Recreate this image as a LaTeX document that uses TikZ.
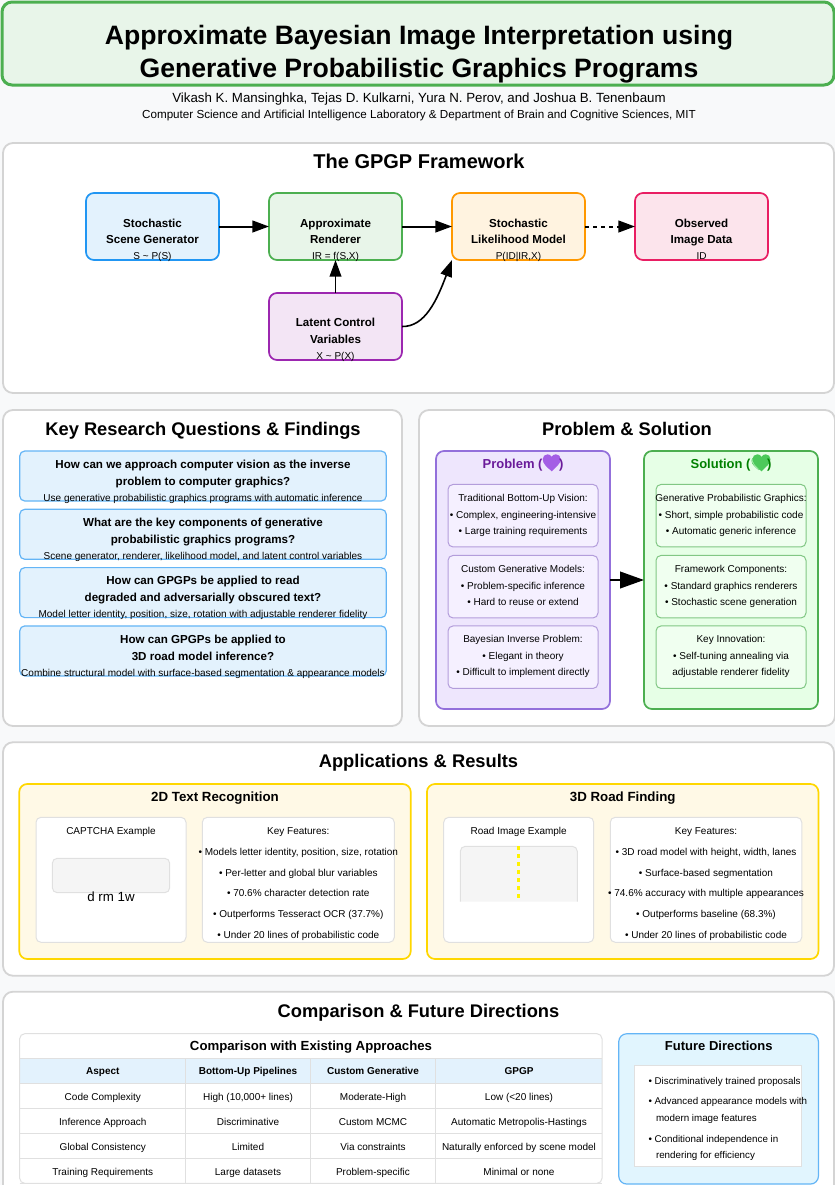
\documentclass[tikz,border=0pt]{standalone}
\usepackage{fontspec}
\setmainfont{Liberation Sans}
\newfontfamily\emojifont{Noto Emoji}
\usetikzlibrary{arrows.meta}

\definecolor{pagebg}{HTML}{F8F9FA}
\definecolor{panelline}{HTML}{D4D4D4}
\definecolor{bluefill}{HTML}{E3F2FD}
\definecolor{blueline}{HTML}{2196F3}
\definecolor{softblue}{HTML}{64B5F6}
\definecolor{greenfill}{HTML}{E8F5E9}
\definecolor{greenline}{HTML}{4CAF50}
\definecolor{orangefill}{HTML}{FFF3E0}
\definecolor{orangeline}{HTML}{FF9800}
\definecolor{pinkfill}{HTML}{FCE4EC}
\definecolor{pinkline}{HTML}{E91E63}
\definecolor{purplefill}{HTML}{F3E5F5}
\definecolor{purpleline}{HTML}{9C27B0}
\definecolor{probfill}{HTML}{EEE6FD}
\definecolor{probline}{HTML}{9370DB}
\definecolor{probinner}{HTML}{F5F0FF}
\definecolor{probinline}{HTML}{B39DDB}
\definecolor{probtext}{HTML}{6A1B9A}
\definecolor{solfill}{HTML}{E6FFE6}
\definecolor{solinner}{HTML}{F0FFF0}
\definecolor{solinline}{HTML}{81C784}
\definecolor{soltext}{HTML}{008000}
\definecolor{yellowfill}{HTML}{FFF9E6}
\definecolor{yellowline}{HTML}{FFD700}
\definecolor{softgray}{HTML}{E0E0E0}
\definecolor{roadgray}{HTML}{F5F5F5}
\definecolor{futurefill}{HTML}{E1F5FE}
\definecolor{purpleheart}{HTML}{A45EE5}
\definecolor{greenheart}{HTML}{4CC95A}

\newcommand\pxsize[1]{\pgfmathsetmacro\pxfs{#1*0.75}\fontsize{\pxfs}{\pxfs}\selectfont}
\newcommand\heartpath{(9,17) .. controls (5,13) and (0,9.5) .. (0,5) .. controls (0,2) and (2,0) .. (4.8,0)
  .. controls (6.6,0) and (8.2,1) .. (9,2.5) .. controls (9.8,1) and (11.4,0) .. (13.2,0)
  .. controls (16,0) and (18,2) .. (18,5) .. controls (18,9.5) and (13,13) .. (9,17) -- cycle}

\tikzset{
  boxed/.style n args={4}{draw=#3,fill=#4,rectangle,rounded corners=#2*0.75pt,
    inner sep=0pt,outer sep=0pt,line width=#1*0.75pt},
  sized/.style 2 args={minimum width=#1*0.75pt,minimum height=#2*0.75pt},
  textline/.style={inner sep=0pt,outer sep=0pt,anchor=base,text=black},
  pxbold/.style={textline,font=\pxsize{#1}\bfseries,yshift=-#1*0.27pt},
  pxplain/.style={textline,font=\pxsize{#1},yshift=-#1*0.27pt},
  panel/.style={boxed={1.8}{10}{panelline}{white}},
  flowbox/.style 2 args={boxed={1.7}{8}{#1}{#2},sized={133}{67}},
  flowarrow/.style={-{Triangle[length=12.5pt,width=8.8pt]},line width=1.5pt,black},
  flowthin/.style={-{Triangle[length=12.5pt,width=8.8pt]},line width=1.2pt,black},
  heading/.style={pxbold=18.3},
}

\begin{document}
\begin{tikzpicture}[x=0.75pt,y=-0.75pt]
  \useasboundingbox (0,0) rectangle (835,1185);
  \fill[pagebg] (0,0) rectangle (835,1185);

  % Title block
  \node[boxed={3}{10}{greenline}{greenfill},sized={832}{83}] (titlebox) at (418,43.5) {};
  \node[pxbold=26.6] (titlea) at (419,35) {Approximate Bayesian Image Interpretation using};
  \node[pxbold=26.6] (titleb) at (419,68) {Generative Probabilistic Graphics Programs};
  \node[pxplain=13.3] (authors) at (419,97.5) {Vikash K. Mansinghka, Tejas D. Kulkarni, Yura N. Perov, and Joshua B. Tenenbaum};
  \node[pxplain=11.65] (affil) at (419,114) {Computer Science and Artificial Intelligence Laboratory \& Department of Brain and Cognitive Sciences, MIT};

  % Framework panel
  \node[panel,sized={831}{250}] (framepanel) at (418.5,268) {};
  \node[pxbold=20] (framehead) at (419,161) {The GPGP Framework};

  \node[flowbox={blueline}{bluefill}] (scene) at (152.5,226.5) {};
  \node[flowbox={greenline}{greenfill}] (renderer) at (335.5,226.5) {};
  \node[flowbox={orangeline}{orangefill}] (likelihood) at (518.5,226.5) {};
  \node[flowbox={pinkline}{pinkfill}] (observed) at (701.5,226.5) {};
  \node[flowbox={purpleline}{purplefill}] (latent) at (335.5,326.5) {};

  \foreach \cx/\id/\txta/\txtb/\txtc in {
    152.5/scene/Stochastic/Scene Generator/S \textasciitilde{} P(S),
    335.5/renderer/Approximate/Renderer/IR = f(S{,}X),
    518.5/likelihood/Stochastic/Likelihood Model/P(ID|IR{,}X),
    701.5/observed/Observed/Image Data/ID}{
    \node[pxbold=11.6] (\id a) at (\cx,223) {\txta};
    \node[pxbold=11.6] (\id b) at (\cx,239) {\txtb};
    \node[pxplain=10] (\id c) at (\cx,256) {\txtc};
  }
  \node[pxbold=11.6] (latenta) at (335.5,322) {Latent Control};
  \node[pxbold=11.6] (latentb) at (335.5,339) {Variables};
  \node[pxplain=10] (latentc) at (335.5,356) {X \textasciitilde{} P(X)};

  \draw[flowarrow] (scene.east) -- (renderer.west);
  \draw[flowarrow] (renderer.east) -- (likelihood.west);
  \draw[flowarrow,dash pattern=on 3pt off 3pt] (likelihood.east) -- (observed.west);
  \draw[flowthin] (latent.north) -- (renderer.south);
  \draw[flowthin] (latent.east) .. controls (425,327) and (437,300) .. (likelihood.south west);

  % Research questions panel
  \node[panel,sized={399}{316}] (questpanel) at (202.5,568) {};
  \node[heading] (questhead) at (203,428.5) {Key Research Questions \& Findings};

  \foreach \top/\qa/\qb/\ans [count=\i] in {
    451/How can we approach computer vision as the inverse/problem to computer graphics?/Use generative probabilistic graphics programs with automatic inference,
    509.3/What are the key components of generative/probabilistic graphics programs?/{Scene generator, renderer, likelihood model, and latent control variables},
    567.6/How can GPGPs be applied to read/degraded and adversarially obscured text?/{Model letter identity, position, size, rotation with adjustable renderer fidelity},
    625.9/How can GPGPs be applied to/3D road model inference?/Combine structural model with surface-based segmentation \& appearance models}{
    \node[boxed={1.2}{5}{softblue}{bluefill},sized={366.5}{50}] (quest\i) at (203,\top+25) {};
    \node[pxbold=11.6] (quest\i a) at (203,\top+13) {\qa};
    \node[pxbold=11.6] (quest\i b) at (203,\top+30) {\qb};
    \node[pxplain=10] (quest\i c) at (203,\top+46.5) {\ans};
  }

  % Problem and solution panel
  \node[panel,sized={416}{316}] (probpanel) at (627,568) {};
  \node[heading] (probhead) at (627,428.5) {Problem \& Solution};

  \node[boxed={1.7}{8}{probline}{probfill},sized={174}{258}] (problem) at (523,580) {};
  \node[boxed={1.7}{8}{greenline}{solfill},sized={174}{258}] (solution) at (731,580) {};
  \fill[purpleheart,shift={(542.7,454.3)}] \heartpath;
  \fill[greenheart,shift={(752.5,454.3)}] \heartpath;
  \node[pxbold=13,text=probtext] (problemhead) at (523,463.5) {Problem ({\emojifont\textcolor{purpleheart}{💜}})};
  \node[pxbold=13,text=soltext] (solutionhead) at (731,463.5) {Solution ({\emojifont\textcolor{greenheart}{💚}})};
  \draw[-{Triangle[length=18pt,width=12.5pt]},line width=1.5pt] (problem.east) -- (solution.west);

  \foreach \top/\txta/\txtb/\txtc [count=\i] in {
    484.5/Traditional Bottom-Up Vision:/{• Complex, engineering-intensive}/• Large training requirements,
    555.5/Custom Generative Models:/• Problem-specific inference/• Hard to reuse or extend,
    626/Bayesian Inverse Problem:/• Elegant in theory/• Difficult to implement directly}{
    \node[boxed={1}{5}{probinline}{probinner},sized={150}{62.5}] (problem\i) at (523,\top+31.2) {};
    \node[pxplain=10] (problem\i a) at (523,\top+13) {\txta};
    \node[pxplain=10] (problem\i b) at (523,\top+30) {\txtb};
    \node[pxplain=10] (problem\i c) at (523,\top+46.2) {\txtc};
  }
  \foreach \top/\txta/\txtb/\txtc [count=\i] in {
    484.5/Generative Probabilistic Graphics:/{• Short, simple probabilistic code}/• Automatic generic inference,
    555.5/Framework Components:/• Standard graphics renderers/• Stochastic scene generation,
    626/Key Innovation:/• Self-tuning annealing via/adjustable renderer fidelity}{
    \node[boxed={1}{5}{solinline}{solinner},sized={150}{62.5}] (solution\i) at (731,\top+31.2) {};
    \node[pxplain=10] (solution\i a) at (731,\top+13) {\txta};
    \node[pxplain=10] (solution\i b) at (731,\top+30) {\txtb};
    \node[pxplain=10] (solution\i c) at (731,\top+46.2) {\txtc};
  }

  % Applications panel
  \node[panel,sized={831}{233.5}] (apppanel) at (418.5,859) {};
  \node[heading] (apphead) at (418.5,760.7) {Applications \& Results};

  \node[boxed={1.7}{8}{yellowline}{yellowfill},sized={391.5}{175}] (textcard) at (215,871.5) {};
  \node[boxed={1.7}{8}{yellowline}{yellowfill},sized={391.5}{175}] (roadcard) at (622.7,871.5) {};
  \node[pxbold=13.3] (textcardhead) at (215,796.5) {2D Text Recognition};
  \node[pxbold=13.3] (roadcardhead) at (622.7,796.5) {3D Road Finding};

  \node[boxed={1}{5}{softgray}{white},sized={150}{125}] (captchabox) at (111,879.8) {};
  \node[boxed={1}{5}{softgray}{white},sized={192}{125}] (textfeat) at (298.3,879.8) {};
  \node[boxed={1}{5}{softgray}{white},sized={150}{125}] (roadbox) at (518.7,879.8) {};
  \node[boxed={1}{5}{softgray}{white},sized={191.5}{125}] (roadfeat) at (706,879.8) {};

  \node[pxplain=10] (captchalabel) at (111,830.7) {CAPTCHA Example};
  \node[boxed={1}{5}{softgray}{roadgray},sized={117.4}{34.4}] (captchaimg) at (111,875.5) {};
  \node[pxplain=13.3] (captchatext) at (111,896.7) {d rm 1w};

  \node[pxplain=10] (roadlabel) at (518.7,830.7) {Road Image Example};
  % road picture is cut off at its lower edge
  \fill[roadgray,rounded corners=3.75pt] (460.3,901.5) [sharp corners] -- (460.3,860) [rounded corners=3.75pt] -- (460.3,846.3) -- (577.3,846.3) -- (577.3,860) [sharp corners] -- (577.3,901.5) -- cycle;
  \draw[softgray,line width=0.75pt,rounded corners=3.75pt] (460.3,901.5) -- (460.3,846.3) -- (577.3,846.3) -- (577.3,901.5);
  \draw[yellow,line width=2.2pt,dash pattern=on 3pt off 3pt] (518.7,846.3) -- (518.7,901.5);

  \foreach \y/\txta/\txtb [count=\i] in {
    830.7/Key Features:/Key Features:,
    851.7/{• Models letter identity, position, size, rotation}/{• 3D road model with height, width, lanes},
    872.7/• Per-letter and global blur variables/• Surface-based segmentation,
    892.7/• 70.6\% character detection rate/• 74.6\% accuracy with multiple appearances,
    913.7/• Outperforms Tesseract OCR (37.7\%)/• Outperforms baseline (68.3\%),
    934.7/• Under 20 lines of probabilistic code/• Under 20 lines of probabilistic code}{
    \node[pxplain=10] (textfeat\i) at (298.3,\y) {\txta};
    \node[pxplain=10] (roadfeat\i) at (706,\y) {\txtb};
  }

  % Comparison panel
  \node[panel,sized={831}{230}] (comppanel) at (418.5,1106.7) {};
  \node[heading] (comphead) at (418.5,1011) {Comparison \& Future Directions};

  \fill[bluefill] (19.7,1058.3) rectangle (602,1083.3);
  \foreach \y in {1058.3,1083.3,1108.3,1133.3,1158.3,1183.3}
    \draw[softgray,line width=0.75pt] (19.7,\y) -- (602,\y);
  \foreach \x in {185.3,310.4,435.6}
    \draw[softgray,line width=0.75pt] (\x,1058.3) -- (\x,1183.3);
  \node[boxed={1}{5}{softgray}{none},sized={582.3}{149.6}] (comptable) at (310.85,1108.5) {};
  \node[pxbold=13.2] (comptitle) at (311,1045.7) {Comparison with Existing Approaches};

  \foreach \y/\ca/\cb/\cc/\cd [count=\i] in {
    1096.5/Code Complexity/High (10{,}000+ lines)/Moderate-High/Low (<20 lines),
    1121.5/Inference Approach/Discriminative/Custom MCMC/Automatic Metropolis-Hastings,
    1146.5/Global Consistency/Limited/Via constraints/Naturally enforced by scene model,
    1171.5/Training Requirements/Large datasets/Problem-specific/Minimal or none}{
    \node[pxplain=10] (row\i a) at (102.8,\y) {\ca};
    \node[pxplain=10] (row\i b) at (248,\y) {\cb};
    \node[pxplain=10] (row\i c) at (373,\y) {\cc};
    \node[pxplain=10] (row\i d) at (519,\y) {\cd};
  }
  \node[pxbold=10] (headera) at (102.8,1071) {Aspect};
  \node[pxbold=10] (headerb) at (248,1071) {Bottom-Up Pipelines};
  \node[pxbold=10] (headerc) at (373,1071) {Custom Generative};
  \node[pxbold=10] (headerd) at (519,1071) {GPGP};

  % Future directions
  \node[boxed={1.2}{8}{softblue}{futurefill},sized={199.7}{150.3}] (futurebox) at (718.6,1108.9) {};
  \node[pxbold=13] (futurehead) at (718.8,1045.7) {Future Directions};
  \node[boxed={1}{0}{softgray}{white},sized={166.7}{100.7}] (futureinner) at (718,1116.3) {};
  \foreach \x/\y/\txt [count=\i] in {
    648.5/1081/• Discriminatively trained proposals,
    648.5/1101/• Advanced appearance models with,
    656/1117.7/modern image features,
    648.5/1138.7/• Conditional independence in,
    656/1154.7/rendering for efficiency}{
    \node[pxplain=9.8,anchor=base west] (future\i) at (\x,\y) {\txt};
  }
\end{tikzpicture}
\end{document}
